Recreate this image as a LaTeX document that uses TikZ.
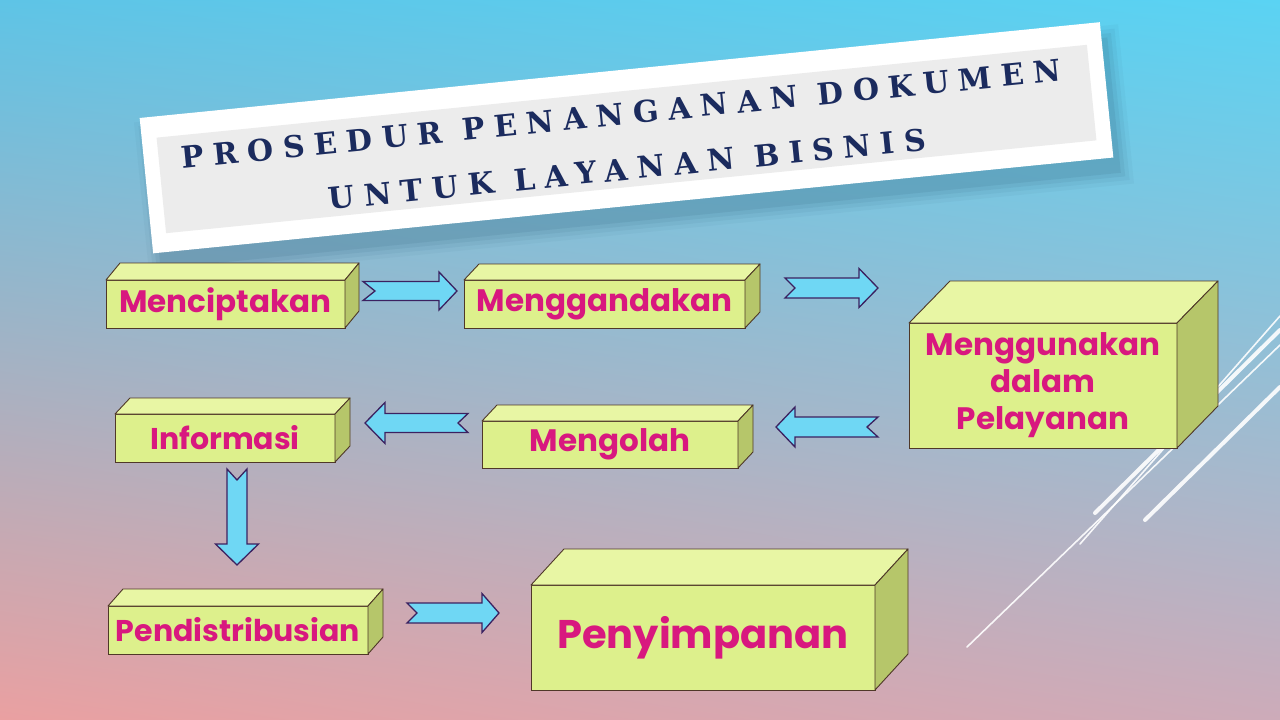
\documentclass[tikz,border=0pt]{standalone}
\usepackage{fontspec}
\setmainfont{DejaVu Serif}
\newfontfamily\labfont{Poppins}
\usetikzlibrary{calc,shadings}
\definecolor{frontc}{HTML}{DDF08C}
\definecolor{topc}{HTML}{E8F6A4}
\definecolor{sidec}{HTML}{B6C66A}
\definecolor{edgec}{HTML}{4F3828}
\definecolor{labc}{HTML}{D8187F}
\definecolor{arrc}{HTML}{6FD7F4}
\definecolor{arro}{HTML}{3B2160}
\definecolor{titc}{HTML}{1B2B5E}
\definecolor{bgul}{HTML}{5EC4E6}
\definecolor{bgur}{HTML}{5AD3F3}
\definecolor{bgll}{HTML}{EAA0A1}
\definecolor{bglr}{HTML}{CDABB9}
\definecolor{shadc}{HTML}{2F5F7A}
\definecolor{bannerin}{HTML}{ECECEC}
\tikzset{
  frontface/.style={draw=edgec, fill=frontc, line width=0.9pt, inner sep=0pt, outer sep=0pt,
    font=\labfont\bfseries, text=labc, align=center},
  faceline/.style={draw=edgec, line width=0.9pt, line join=round},
  arrowstyle/.style={draw=arro, fill=arrc, line width=1.3pt, line join=miter},
  decoline/.style={white, opacity=0.9, line cap=round},
  titletext/.style={rotate=5.7, text=titc, inner sep=0pt,
    font=\bfseries\fontsize{30}{32}\selectfont\addfontfeatures{LetterSpace=32}},
  pics/barrow/.style n args={5}{code={
    \draw[arrowstyle] (0,-#2) -- ({#1-#4},-#2) -- ({#1-#4},-#3) -- (#1,0) -- ({#1-#4},#3) -- ({#1-#4},#2) -- (0,#2) -- (#5,0) -- cycle;
  }}
}
% name, x1, y1, x2, y2, dx, dy(up), font size, text
\newcommand\cuboid[9]{%
  \node[frontface, minimum width={#4-#2}, minimum height={#5-#3}, font=\labfont\bfseries\fontsize{#8}{37}\selectfont]
    (#1) at ({(#2+#4)/2},{(#3+#5)/2}) {#9};
  \draw[faceline, fill=topc] (#1.north west) -- ++(#6,-#7) -- ($(#1.north east)+(#6,-#7)$) -- (#1.north east) -- cycle;
  \draw[faceline, fill=sidec] (#1.north east) -- ++(#6,-#7) -- ($(#1.south east)+(#6,-#7)$) -- (#1.south east) -- cycle;
}
\begin{document}
\begin{tikzpicture}[x=1pt,y=-1pt]
\useasboundingbox (0,0) rectangle (1280,720);
\shade[upper left=bgul, upper right=bgur, lower left=bgll, lower right=bglr] (0,0) rectangle (1280,720);
% decorative lines
\draw[decoline, line width=1.6pt] (967,647) -- (1280,345);
\draw[decoline, line width=1.6pt] (1080,544) -- (1280,316);
\draw[decoline, line width=4pt] (1095,513) -- (1280,330);
\draw[decoline, line width=4pt] (1145,520) -- (1280,387);
% banner
\foreach \s/\o in {24/0.05,16/0.07,8/0.09,0/0.12}{
  \fill[shadc, opacity=\o, rotate around={5.7:(634,153)}]
    ({634-482.5-\s/2},{153-68-\s/2}) rectangle ({634+482.5+\s/2},{153+68+\s/2});
}
\node[fill=white, minimum width=965pt, minimum height=136pt, inner sep=0pt, rotate=5.7] (banner) at (626.5,137.75) {};
\node[fill=bannerin, minimum width=935pt, minimum height=96pt, inner sep=0pt, rotate=5.7] (bannerin) at (626.5,139) {};
\node[titletext] (t1) at (621,114) {PROSEDUR PENANGANAN DOKUMEN};
\node[titletext] (t2) at (627,169) {UNTUK LAYANAN BISNIS};
% arrows
\coordinate (a1) at (363,291);
\coordinate (a2) at (785,288);
\coordinate (a3) at (878,427);
\coordinate (a4) at (468,423);
\coordinate (a5) at (237,469);
\coordinate (a6) at (407,613);
\pic at (a1) {barrow={94}{9.5}{19}{18}{12}};
\pic at (a2) {barrow={93}{10}{19.5}{19}{10}};
\pic[rotate=180] at (a3) {barrow={102}{10}{20}{19}{11}};
\pic[rotate=180] at (a4) {barrow={103}{9.5}{20.5}{20}{10}};
\pic[rotate=-90] at (a5) {barrow={96}{10}{21.5}{21}{11}};
\pic at (a6) {barrow={92}{10}{19.5}{17}{10}};
% boxes
\cuboid{b1}{106}{280}{345}{328}{14}{17}{31}{Menciptakan}
\cuboid{b2}{464}{280}{745}{328}{15}{16}{31}{Menggandakan}
\cuboid{b3}{909}{323}{1177}{448}{41}{42}{31}{Menggunakan\\dalam\\Pelayanan}
\cuboid{b4}{115}{414}{335}{462}{15}{16}{30}{Informasi}
\cuboid{b5}{482}{421}{738}{468}{15}{16}{31}{Mengolah}
\cuboid{b6}{108}{606}{368}{654}{15}{17}{30}{Pendistribusian}
\cuboid{b7}{531}{585}{875}{690}{33}{36}{40}{\raisebox{5pt}{Penyimpanan}}
\end{tikzpicture}
\end{document}
